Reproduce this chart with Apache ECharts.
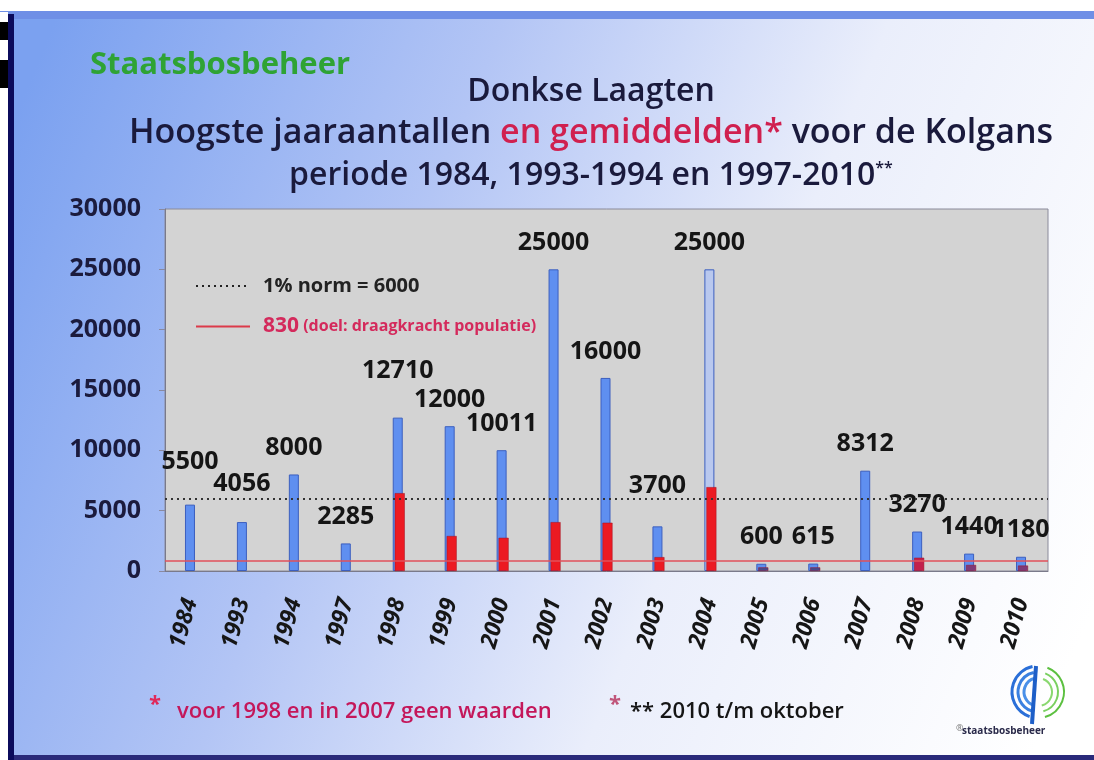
<!DOCTYPE html>
<html>
<head>
<meta charset="utf-8">
<script src="https://cdn.jsdelivr.net/npm/echarts@6/dist/echarts.min.js"></script>
<style>
html,body{margin:0;padding:0;background:#fff;}
#chart{width:1094px;height:760px;}
</style>
</head>
<body>
<div id="chart"></div>
<script>
// ---- data ----
const years = ['1984','1993','1994','1997','1998','1999','2000','2001','2002','2003','2004','2005','2006','2007','2008','2009','2010'];
const maxima = [5500,4056,8000,2285,12710,12000,10011,25000,16000,3700,25000,600,615,8312,3270,1440,1180];
const averages = [null,null,null,null,6450,2900,2750,4050,4000,1150,6950,300,300,null,1100,500,450];
const yTicks = [0,5000,10000,15000,20000,25000,30000];
const NORM = 6000;
const TARGET = 830;

const FONT = '"Open Sans", "Noto Sans", sans-serif';
// extra label lift (layout only) for a few crowded labels
const labelLift = {0: 16, 1: 12, 4: 20, 9: 14};

const chart = echarts.init(document.getElementById('chart'));

const maxData = maxima.map(function (v, i) {
  const item = {value: v};
  if (labelLift[i]) item.label = {distance: 14 + labelLift[i]};
  return item;
});

const option = {
  backgroundColor: new echarts.graphic.LinearGradient(0, 0.2, 1, 0.8, [
    {offset: 0, color: '#7ba1f0'},
    {offset: 0.35, color: '#b3c5f5'},
    {offset: 0.65, color: '#eaeefb'},
    {offset: 1, color: '#ffffff'}
  ]),
  animation: false,
  grid: {left: 165, right: 46, top: 209, bottom: 189, show: true,
         backgroundColor: '#d3d3d3', borderColor: '#8a8a9a', borderWidth: 1},
  legend: {
    orient: 'vertical', left: 190, top: 271, itemGap: 20,
    itemWidth: 54, itemHeight: 12,
    itemStyle: {opacity: 0},
    data: ['norm', 'target'],
    formatter: function (name) {
      if (name === 'norm') return '{n|1% norm = ' + NORM + '}';
      return '{t|' + TARGET + '}{s| (doel: draagkracht populatie)}';
    },
    textStyle: {
      padding: [0, 0, 0, 8],
      rich: {
        n: {fontFamily: FONT, fontWeight: 'bold', fontSize: 20, color: '#222'},
        t: {fontFamily: FONT, fontWeight: 'bold', fontSize: 21, color: '#d42a5c'},
        s: {fontFamily: FONT, fontWeight: 'bold', fontSize: 16, color: '#d42a5c'}
      }
    }
  },
  xAxis: {
    type: 'category', data: years,
    axisLine: {lineStyle: {color: '#7a7a8a'}},
    axisTick: {show: false},
    axisLabel: {rotate: 74, margin: 28, fontFamily: FONT, fontWeight: 'bold',
                fontStyle: 'italic', fontSize: 23, color: '#161616'}
  },
  yAxis: {
    type: 'value', min: yTicks[0], max: yTicks[yTicks.length - 1], interval: 5000,
    splitLine: {show: false},
    axisLine: {show: true, lineStyle: {color: '#7a7a8a'}},
    axisTick: {show: true, length: 6, lineStyle: {color: '#8a8aa0'}},
    axisLabel: {margin: 24, fontFamily: FONT, fontWeight: 'bold', fontSize: 25, color: '#1b1b3d',
                formatter: function (v) { return String(v); }}
  },
  series: [
    {
      name: 'max', type: 'bar', data: maxData, barWidth: 10, barGap: '-80%',
      itemStyle: {
        color: function (p) { return p.dataIndex === 10 ? '#b9c8ee' : '#5f8ff0'; },
        borderColor: '#3c5fbf', borderWidth: 1
      },
      label: {show: true, position: 'top', distance: 14, fontFamily: FONT,
              fontWeight: 'bold', fontSize: 25, color: '#151515'},
      z: 2
    },
    {
      name: 'avg', type: 'bar', data: averages, barWidth: 10,
      itemStyle: {
        color: function (p) {
          if (p.dataIndex >= 15) return '#7e3a78';
          if (p.dataIndex >= 14) return '#c2204c';
          if (p.dataIndex >= 11) return '#4a4a8a';
          return '#ec1a22';
        },
        borderColor: '#a01020', borderWidth: 0.5
      },
      z: 3
    },
    {
      name: 'norm', type: 'line', data: [], symbol: 'none',
      lineStyle: {type: [2, 4], color: '#222', width: 2},
      itemStyle: {color: '#222'},
      markLine: {silent: true, symbol: 'none', label: {show: false},
                 lineStyle: {type: [2, 4], color: '#333', width: 2},
                 data: [{yAxis: NORM}]},
      z: 4
    },
    {
      name: 'target', type: 'line', data: [], symbol: 'none',
      lineStyle: {type: 'solid', color: '#dc3a4a', width: 2},
      itemStyle: {color: '#dc3a4a'},
      markLine: {silent: true, symbol: 'none', label: {show: false},
                 lineStyle: {type: 'solid', color: '#e2505a', width: 1.5},
                 data: [{yAxis: TARGET}]},
      z: 4
    }
  ],
  graphic: [
    // frame decorations
    {type: 'rect', shape: {x: 0, y: 0, width: 1094, height: 12}, style: {fill: '#ffffff'}, silent: true},
    {type: 'rect', shape: {x: 0, y: 11, width: 1094, height: 8}, style: {fill: '#6f8fe6'}, silent: true},
    {type: 'rect', shape: {x: 8, y: 14, width: 6, height: 746}, style: {fill: '#0b0b5c'}, silent: true},
    {type: 'rect', shape: {x: 0, y: 12, width: 8, height: 748}, style: {fill: '#ffffff'}, silent: true},
    {type: 'rect', shape: {x: 0, y: 22, width: 8, height: 18}, style: {fill: '#000000'}, silent: true},
    {type: 'rect', shape: {x: 0, y: 60, width: 8, height: 28}, style: {fill: '#000000'}, silent: true},
    {type: 'rect', shape: {x: 14, y: 755, width: 1080, height: 5}, style: {fill: '#2a2a7a'}, silent: true},
    // brand
    {type: 'text', x: 90, y: 65,
     style: {text: 'Staatsbosbeheer', textVerticalAlign: 'middle', fontFamily: FONT, fontWeight: 'bold', fontSize: 31, fill: '#2fa334'}},
    // titles
    {type: 'text', x: 591, y: 92,
     style: {text: 'Donkse Laagten', textAlign: 'center', textVerticalAlign: 'middle',
             fontFamily: FONT, fontWeight: 600, fontSize: 32, fill: '#1a1a3c'}},
    {type: 'text', x: 591, y: 133,
     style: {text: '{a|Hoogste jaaraantallen }{b|en gemiddelden*}{a| voor de Kolgans}',
             textAlign: 'center', textVerticalAlign: 'middle',
             rich: {a: {fontFamily: FONT, fontWeight: 600, fontSize: 34, fill: '#1a1a3c'},
                    b: {fontFamily: FONT, fontWeight: 600, fontSize: 34, fill: '#d0204f'}}}},
    {type: 'text', x: 591, y: 176,
     style: {text: '{a|periode 1984, 1993-1994 en 1997-2010}{s|**}',
             textAlign: 'center', textVerticalAlign: 'middle',
             rich: {a: {fontFamily: FONT, fontWeight: 600, fontSize: 32, fill: '#1a1a3c'},
                    s: {fontFamily: FONT, fontWeight: 600, fontSize: 16, fill: '#1a1a3c', verticalAlign: 'top', padding: [0, 0, 16, 0]}}}},
    // footnotes
    {type: 'text', x: 149, y: 705,
     style: {text: '*', textVerticalAlign: 'middle', fontFamily: FONT, fontWeight: 'bold', fontSize: 22, fill: '#e0285a'}},
    {type: 'text', x: 177, y: 712,
     style: {text: 'voor 1998 en in 2007 geen waarden', textVerticalAlign: 'middle', fontFamily: FONT, fontWeight: 600, fontSize: 22, fill: '#c4175a'}},
    {type: 'text', x: 609, y: 705,
     style: {text: '*', textVerticalAlign: 'middle', fontFamily: FONT, fontWeight: 'bold', fontSize: 22, fill: '#c0557a'}},
    {type: 'text', x: 630, y: 712,
     style: {text: '** 2010 t/m oktober', textVerticalAlign: 'middle', fontFamily: FONT, fontWeight: 600, fontSize: 22, fill: '#151515'}},
    // logo
    {type: 'group', x: 1004, y: 662, children: [
      {type: 'arc', shape: {cx: 34, cy: 30, r: 26, startAngle: 1.9, endAngle: 4.5}, style: {stroke: '#2a6fd8', lineWidth: 3, fill: null}},
      {type: 'arc', shape: {cx: 34, cy: 30, r: 20, startAngle: 1.9, endAngle: 4.5}, style: {stroke: '#3a80e0', lineWidth: 3, fill: null}},
      {type: 'arc', shape: {cx: 34, cy: 30, r: 14, startAngle: 1.9, endAngle: 4.5}, style: {stroke: '#4a90e8', lineWidth: 3, fill: null}},
      {type: 'arc', shape: {cx: 34, cy: 30, r: 26, startAngle: -1.2, endAngle: 1.3}, style: {stroke: '#5cc040', lineWidth: 2, fill: null}},
      {type: 'arc', shape: {cx: 34, cy: 30, r: 20, startAngle: -1.2, endAngle: 1.3}, style: {stroke: '#7ad060', lineWidth: 2, fill: null}},
      {type: 'arc', shape: {cx: 34, cy: 30, r: 14, startAngle: -1.2, endAngle: 1.3}, style: {stroke: '#8ad870', lineWidth: 2, fill: null}},
      {type: 'line', shape: {x1: 32, y1: 4, x2: 28, y2: 62}, style: {stroke: '#1e5fc8', lineWidth: 4}}
    ]},
    {type: 'text', x: 956, y: 724,
     style: {text: '\u00ae', fontFamily: FONT, fontSize: 9, fill: '#777'}},
    {type: 'text', x: 962, y: 726,
     style: {text: 'staatsbosbeheer', fontFamily: FONT, fontWeight: 'bold', fontSize: 10, fill: '#2a2a4a'}}
  ]
};
chart.setOption(option);
</script>
</body>
</html>
